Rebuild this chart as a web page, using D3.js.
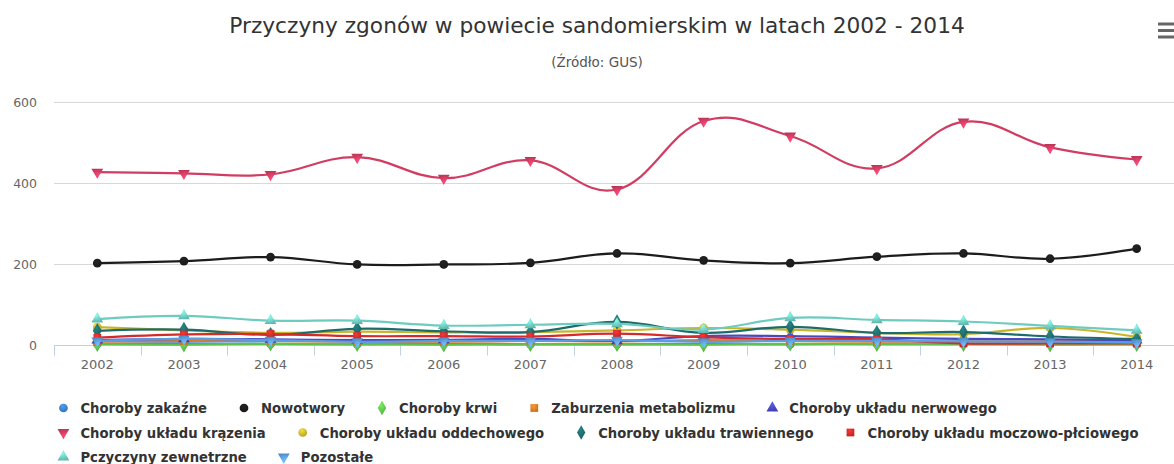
<!DOCTYPE html>
<html>
<head>
<meta charset="utf-8">
<script src="https://cdnjs.cloudflare.com/ajax/libs/d3/7.8.5/d3.min.js"></script>
<style>
body { margin: 0; background: #fff; }
svg { display: block; font-family: "DejaVu Sans", Verdana, sans-serif; }
</style>
</head>
<body>
<svg id="chart"></svg>
<script>
// dane (GUS, powiat sandomierski)
var years = ["2002","2003","2004","2005","2006","2007","2008","2009","2010","2011","2012","2013","2014"];
var yTicks = [0, 200, 400, 600];

var zakazne      = [3, 4, 3, 2, 3, 2, 2, 3, 2, 3, 3, 3, 2];
var nowotwory    = [202, 207, 217, 199, 199, 203, 226, 209, 202, 218, 226, 213, 238];
var krwi         = [2, 1, 3, 2, 1, 2, 2, 1, 3, 2, 2, 1, 2];
var metabolizmu  = [8, 10, 10, 8, 8, 10, 9, 12, 10, 8, 9, 9, 10];
var nerwowego    = [12, 15, 14, 12, 13, 15, 10, 22, 22, 18, 15, 14, 12];
var krazenia     = [427, 424, 421, 464, 412, 456, 384, 553, 516, 436, 551, 488, 458];
var oddechowego  = [44, 36, 30, 33, 31, 32, 36, 42, 38, 30, 27, 42, 20];
var trawiennego  = [35, 38, 25, 40, 34, 32, 57, 30, 45, 30, 32, 21, 15];
var moczowo      = [18, 26, 27, 22, 22, 21, 28, 19, 15, 14, 4, 4, 4];
var zewnetrzne   = [64, 72, 60, 60, 48, 50, 52, 38, 67, 62, 58, 47, 36];
var pozostale    = [10, 15, 12, 8, 10, 10, 12, 8, 10, 10, 9, 8, 6];

var seriesNames = ["Choroby zakaźne", "Nowotwory", "Choroby krwi", "Zaburzenia metabolizmu",
  "Choroby układu nerwowego", "Choroby układu krązenia", "Choroby układu oddechowego",
  "Choroby układu trawiennego", "Choroby układu moczowo-płciowego", "Pczyczyny zewnetrzne", "Pozostałe"];
var seriesValues = [zakazne, nowotwory, krwi, metabolizmu, nerwowego, krazenia, oddechowego,
  trawiennego, moczowo, zewnetrzne, pozostale];
var seriesColors = ["#3d7fc9", "#1c1c1c", "#5ec24a", "#e07b22", "#4848bf", "#d13c62",
  "#c8b52a", "#1e6b6b", "#d42a2a", "#6ecbbf", "#5b9de0"];
var seriesSymbols = [d3.symbolCircle, d3.symbolCircle, d3.symbolDiamond, d3.symbolSquare,
  d3.symbolTriangle, "triangle-down", d3.symbolCircle, d3.symbolDiamond, d3.symbolSquare,
  d3.symbolTriangle, "triangle-down"];

var W = 1174, H = 464;
var margin = {top: 102, left: 54, bottom: 119, right: -6};

var svg = d3.select("#chart").attr("width", W).attr("height", H);

var x = d3.scaleBand().domain(years).range([margin.left, W - margin.right]).padding(0);
var y = d3.scaleLinear().domain([0, 600]).range([H - margin.bottom, margin.top]);

var defs = svg.append("defs");
seriesColors.forEach(function(c, i){
  var g = defs.append("radialGradient").attr("id", "grad" + i)
    .attr("cx", "0.4").attr("cy", "0.3").attr("r", "0.7");
  g.append("stop").attr("offset", "0%").attr("stop-color", d3.color(c).brighter(0.6));
  g.append("stop").attr("offset", "100%").attr("stop-color", d3.color(c).darker(0.3));
});

function symbolPath(sym, size){
  if (sym === "triangle-down") {
    return d3.symbol().type(d3.symbolTriangle).size(size)();
  }
  return d3.symbol().type(sym).size(size)();
}
function symbolTransform(sym, px, py){
  if (sym === "triangle-down") return "translate(" + px + "," + py + ") rotate(180)";
  return "translate(" + px + "," + py + ")";
}

// tytul
svg.append("text").attr("x", 597).attr("y", 33).attr("text-anchor", "middle")
  .style("font-size", "21.7px").style("fill", "#333")
  .text("Przyczyny zgonów w powiecie sandomierskim w latach 2002 - 2014");
svg.append("text").attr("x", 597).attr("y", 67).attr("text-anchor", "middle")
  .style("font-size", "13.5px").style("fill", "#555")
  .text("(Źródło: GUS)");

// menu
[24, 30.5, 37].forEach(function(yy){
  svg.append("line").attr("x1", 1158).attr("x2", 1174).attr("y1", yy).attr("y2", yy)
    .attr("stroke", "#666").attr("stroke-width", 3);
});

// siatka
svg.append("g").selectAll("line").data(yTicks.filter(function(d){ return d > 0; })).enter()
  .append("line")
  .attr("x1", margin.left).attr("x2", W - margin.right)
  .attr("y1", function(d){ return y(d) + 0.5; }).attr("y2", function(d){ return y(d) + 0.5; })
  .attr("stroke", "#d8d8d8").attr("stroke-width", 1);

var yAxis = d3.axisLeft(y).tickValues(yTicks).tickSize(0).tickPadding(0);
svg.append("g").attr("transform", "translate(" + (margin.left - 17) + ",0)").call(yAxis)
  .call(function(g){ g.select(".domain").remove(); })
  .selectAll("text").style("font-size", "12.5px").style("fill", "#666")
  .attr("font-family", "DejaVu Sans, Verdana, sans-serif");

// os X
var xg = svg.append("g").attr("transform", "translate(0," + (y(0) + 0.5) + ")");
xg.append("line").attr("x1", margin.left).attr("x2", W - margin.right)
  .attr("stroke", "#c0d0e0").attr("stroke-width", 1);
var bounds = years.map(function(d){ return x(d); }).concat([x(years[years.length - 1]) + x.bandwidth()]);
xg.selectAll("line.tick").data(bounds).enter().append("line").attr("class", "tick")
  .attr("x1", function(d){ return Math.round(d) + 0.5; }).attr("x2", function(d){ return Math.round(d) + 0.5; })
  .attr("y1", 0).attr("y2", 10).attr("stroke", "#c0d0e0");
xg.selectAll("text").data(years).enter().append("text")
  .attr("x", function(d){ return x(d) + x.bandwidth() / 2; }).attr("y", 23)
  .attr("text-anchor", "middle").style("font-size", "13px").style("fill", "#666")
  .text(function(d){ return d; });

// linie
var line = d3.line()
  .x(function(d, i){ return x(years[i]) + x.bandwidth() / 2; })
  .y(function(d){ return y(d); })
  .curve(d3.curveCardinal.tension(-0.2));

var seriesG = svg.append("g");
seriesValues.forEach(function(vals, s){
  var g = seriesG.append("g");
  g.append("path").datum(vals).attr("d", line)
    .attr("fill", "none").attr("stroke", seriesColors[s]).attr("stroke-width", 2.2)
    .attr("stroke-linejoin", "round");
  g.selectAll("path.m").data(vals).enter().append("path").attr("class", "m")
    .attr("d", symbolPath(seriesSymbols[s], seriesSymbols[s] === d3.symbolDiamond ? 70 : 60))
    .attr("transform", function(d, i){
      return symbolTransform(seriesSymbols[s], x(years[i]) + x.bandwidth() / 2, y(d));
    })
    .attr("fill", "url(#grad" + s + ")");
});

// legenda
var legend = svg.append("g");
var items = seriesNames.map(function(name, s){
  var g = legend.append("g");
  g.append("path").attr("d", symbolPath(seriesSymbols[s], 60))
    .attr("transform", symbolTransform(seriesSymbols[s], 8, 0))
    .attr("fill", "url(#grad" + s + ")");
  var t = g.append("text").attr("x", 25).attr("y", 5)
    .style("font-size", "13.2px").style("font-weight", "bold").style("fill", "#333").text(name);
  return {g: g, w: 25 + t.node().getComputedTextLength()};
});
var itemDistance = 29, maxW = 1130, rows = [[]], cx = 0;
items.forEach(function(it){
  if (cx > 0 && cx + itemDistance + it.w > maxW) { rows.push([]); cx = 0; }
  if (cx > 0) cx += itemDistance;
  it.x = cx; cx += it.w;
  rows[rows.length - 1].push(it);
});
var widest = d3.max(rows, function(r){ var l = r[r.length - 1]; return l.x + l.w; });
var lx = 597 - widest / 2;
rows.forEach(function(r, ri){
  r.forEach(function(it){
    it.g.attr("transform", "translate(" + (lx + it.x) + "," + (408 + ri * 24.5) + ")");
  });
});
</script>
</body>
</html>
